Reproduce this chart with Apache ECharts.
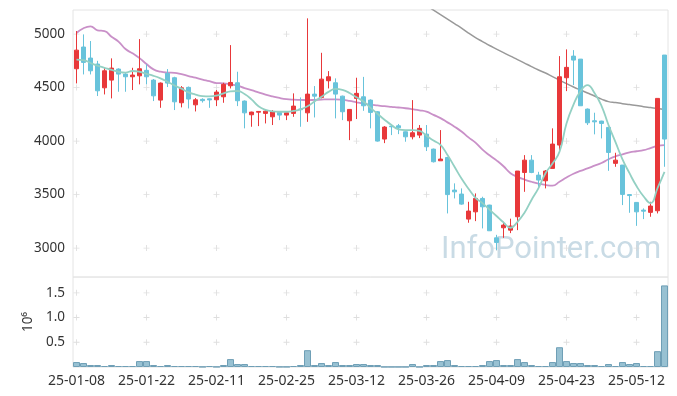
<!DOCTYPE html>
<html><head><meta charset="utf-8">
<script src="https://cdn.jsdelivr.net/npm/echarts@6/dist/echarts.min.js"></script>
<style>html,body{margin:0;padding:0;background:#fff}#c{width:677px;height:396px}</style>
</head><body><div id="c"></div>
<script>
const dates = ['25-01-08','25-01-09','25-01-10','25-01-13','25-01-14','25-01-15','25-01-16','25-01-17','25-01-20','25-01-21',
'25-01-22','25-01-23','25-01-24','25-01-31','25-02-03','25-02-04','25-02-05','25-02-06','25-02-07','25-02-10',
'25-02-11','25-02-12','25-02-13','25-02-14','25-02-17','25-02-18','25-02-19','25-02-20','25-02-21','25-02-24',
'25-02-25','25-02-26','25-02-27','25-02-28','25-03-04','25-03-05','25-03-06','25-03-07','25-03-10','25-03-11',
'25-03-12','25-03-13','25-03-14','25-03-17','25-03-18','25-03-19','25-03-20','25-03-21','25-03-24','25-03-25',
'25-03-26','25-03-27','25-03-28','25-03-31','25-04-01','25-04-02','25-04-03','25-04-04','25-04-07','25-04-08',
'25-04-09','25-04-10','25-04-11','25-04-14','25-04-15','25-04-16','25-04-17','25-04-18','25-04-21','25-04-22',
'25-04-23','25-04-24','25-04-25','25-04-28','25-04-29','25-04-30','25-05-02','25-05-07','25-05-08','25-05-09',
'25-05-12','25-05-13','25-05-14','25-05-15','25-05-16'];
const opens = [4676,4879,4776,4720,4498,4570,4673,4626,4601,4610,
4661,4570,4383,4633,4592,4358,4502,4339,4390,4395,
4386,4414,4517,4545,4374,4246,4270,4259,4227,4268,
4243,4259,4300,4264,4439,4408,4564,4545,4420,4190,
4399,4414,4383,4274,4019,4140,4143,4087,4040,4056,
4065,3925,3816,3847,3542,3505,3271,3339,3464,3402,
3096,3190,3168,3293,3707,3822,3682,3629,3745,3963,
4592,4794,4766,4299,4190,4187,4128,3792,3776,3500,
3427,3355,3334,3349,4804];
const closes = [4850,4735,4657,4470,4657,4682,4626,4601,4617,4676,
4601,4423,4542,4542,4367,4498,4393,4386,4378,4385,
4458,4530,4548,4377,4264,4271,4277,4280,4274,4243,
4265,4327,4293,4439,4420,4579,4601,4439,4274,4296,
4446,4330,4268,4000,4131,4134,4124,4040,4078,4119,
3947,3807,3832,3500,3526,3411,3346,3464,3386,3162,
3053,3215,3206,3720,3822,3707,3636,3720,3972,4601,
4689,4757,4330,4171,4180,4165,3894,3822,3502,3491,
3339,3345,3393,4399,4019];
const lows = [4539,4623,4623,4421,4436,4399,4461,4461,4477,4530,
4530,4374,4311,4505,4290,4315,4305,4277,4360,4311,
4327,4358,4492,4327,4119,4134,4140,4165,4150,4196,
4196,4227,4134,4180,4221,4399,4492,4212,4196,4009,
4206,4283,4119,3995,3981,4056,4065,3994,4016,4028,
3907,3800,3816,3324,3464,3405,3237,3252,3184,3160,
2981,3096,3140,3168,3526,3700,3573,3558,3745,3916,
4467,4523,4330,4150,4063,4025,3722,3760,3402,3330,
3208,3271,3293,3324,3760];
const highs = [5028,4997,4935,4750,4685,4773,4680,4635,4685,4953,
4717,4580,4548,4673,4601,4514,4510,4402,4400,4398,
4477,4545,4897,4648,4380,4275,4280,4290,4290,4270,
4280,4446,4408,5147,4514,4825,4654,4586,4425,4300,
4592,4600,4390,4280,4140,4143,4160,4090,4383,4150,
4150,3930,4103,3850,3605,3558,3433,3511,3480,3405,
3124,3246,3275,3720,3869,3869,3713,3729,4119,4794,
4857,4850,4766,4305,4265,4190,4130,3891,3776,3505,
3430,3371,3433,4399,4804];
const ma5 = [4762,4757,4730,4705,4685,4665,4648,4640,4655,4648,
4628,4610,4586,4555,4520,4490,4455,4435,4420,4418,
4425,4445,4465,4468,4440,4390,4325,4292,4278,4274,
4274,4282,4296,4325,4370,4414,4460,4488,4478,4450,
4410,4370,4310,4255,4200,4150,4110,4103,4103,4095,
4050,4005,3965,3870,3760,3650,3555,3470,3420,3360,
3300,3240,3190,3246,3330,3450,3560,3700,3790,3900,
4165,4340,4465,4523,4450,4330,4150,3990,3830,3700,
3580,3485,3420,3560,3713];
const ma20 = [5010,5055,5072,5035,5028,4975,4930,4860,4820,4775,
4720,4670,4648,4640,4638,4625,4608,4592,4575,4560,
4542,4540,4530,4518,4495,4477,4455,4435,4418,4403,
4392,4387,4385,4383,4385,4388,4390,4390,4385,4375,
4362,4350,4340,4333,4326,4320,4314,4307,4298,4288,
4275,4245,4215,4175,4135,4090,4035,3985,3920,3868,
3820,3765,3700,3665,3640,3620,3603,3590,3583,3620,
3660,3695,3722,3745,3770,3795,3830,3858,3875,3895,
3905,3915,3935,3955,3963];
const ma60 = [null,null,null,null,null,null,null,null,null,null,
null,null,null,null,null,null,null,null,null,null,
null,null,null,null,null,null,null,null,null,null,
null,null,null,null,null,null,null,null,null,null,
null,null,null,null,null,null,null,null,null,null,
5266,5224,5182,5140,5098,5056,5009,4967,4930,4893,
4860,4827,4794,4762,4729,4696,4664,4636,4603,4570,
4537,4505,4477,4449,4421,4392,4369,4360,4350,4341,
4332,4322,4313,4304,4296];
const volumes = [100000,80000,40000,40000,20000,40000,20000,20000,20000,120000,
120000,40000,20000,40000,20000,20000,20000,20000,5000,20000,
5000,40000,160000,60000,60000,20000,20000,20000,20000,5000,
5000,20000,40000,340000,40000,80000,40000,100000,40000,40000,
60000,60000,40000,40000,3000,3000,3000,3000,60000,3000,
40000,40000,120000,140000,40000,20000,20000,20000,40000,120000,
140000,40000,40000,160000,100000,40000,20000,20000,100000,400000,
120000,80000,80000,40000,40000,20000,60000,20000,100000,60000,
80000,20000,20000,320000,1650000];
const priceTicks = [3000,3500,4000,4500,5000];
const volTicks = [500000,1000000,1500000];

const gridDates = dates.filter((d,i)=>i%10===0);
const crossMain = [], crossVol = [];
gridDates.forEach(d=>{ priceTicks.forEach(v=>crossMain.push([d,v])); volTicks.forEach(v=>crossVol.push([d,v])); });
const plus = 'path://M0,3L7,3L7,4L0,4Z M3,0L4,0L4,7L3,7Z';

const chart = echarts.init(document.getElementById('c'), null, {renderer:'canvas'});
chart.setOption({
  animation:false,
  textStyle:{fontFamily:'Noto Sans'},
  grid:[
    {left:73,right:9,top:10,height:267,show:true,borderColor:'#e4e4e4',borderWidth:1,backgroundColor:'transparent'},
    {left:73,right:9,top:277,height:90,show:true,borderColor:'#e4e4e4',borderWidth:1,backgroundColor:'transparent'}
  ],
  graphic:[{type:'text',left:441,top:235,z:0,silent:true,
    style:{text:'InfoPointer.com',fontSize:31,fontFamily:'Roboto',fill:'#c9dbe5'}}],
  xAxis:[
    {type:'category',gridIndex:0,data:dates,boundaryGap:true,axisLine:{show:false},axisTick:{show:false},axisLabel:{show:false},splitLine:{show:false}},
    {type:'category',gridIndex:1,data:dates,boundaryGap:true,axisLine:{show:false},axisTick:{show:false},
     axisLabel:{interval:9,fontSize:14,color:'#333',margin:7},splitLine:{show:false}}
  ],
  yAxis:[
    {type:'value',gridIndex:0,min:2730,max:5225,axisLine:{show:false},axisTick:{show:false},splitLine:{show:false},
     axisLabel:{customValues:priceTicks,fontSize:13.5,color:'#333',margin:8,formatter:v=>String(v)}},
    {type:'value',gridIndex:1,min:0,max:1820000,axisLine:{show:false},axisTick:{show:false},splitLine:{show:false},
     axisLabel:{customValues:volTicks,fontSize:13.5,color:'#333',margin:8,formatter:v=>(v/1e6).toFixed(1)},
     name:'10⁶',nameLocation:'middle',nameRotate:90,nameGap:38,nameTextStyle:{fontSize:13.5,color:'#333'}}
  ],
  series:[
    {type:'scatter',xAxisIndex:0,yAxisIndex:0,data:crossMain,symbol:plus,symbolSize:6,silent:true,z:1,itemStyle:{color:'#d6d6d6'}},
    {type:'scatter',xAxisIndex:1,yAxisIndex:1,data:crossVol,symbol:plus,symbolSize:6,silent:true,z:1,itemStyle:{color:'#d6d6d6'}},
    {type:'line',xAxisIndex:0,yAxisIndex:0,data:ma60,symbol:'none',smooth:true,z:3,lineStyle:{color:'#999',width:1.5}},
    {type:'line',xAxisIndex:0,yAxisIndex:0,data:ma20,symbol:'none',smooth:true,z:3,lineStyle:{color:'#c990c8',width:1.8}},
    {type:'candlestick',xAxisIndex:0,yAxisIndex:0,barWidth:5,z:4,
     data:dates.map((d,i)=>[opens[i],closes[i],lows[i],highs[i]]),
     itemStyle:{color:'#e8383a',color0:'#68c3db',borderColor:'#e8383a',borderColor0:'#68c3db',borderWidth:1}},
    {type:'line',xAxisIndex:0,yAxisIndex:0,data:ma5,symbol:'none',smooth:true,z:5,lineStyle:{color:'#93d0c3',width:1.8}},
    {type:'bar',xAxisIndex:1,yAxisIndex:1,data:volumes,barWidth:'100%',barCategoryGap:'0%',
     itemStyle:{color:'#98c1d2',borderColor:'#6f9fb6',borderWidth:1}}
  ]
});
</script></body></html>
